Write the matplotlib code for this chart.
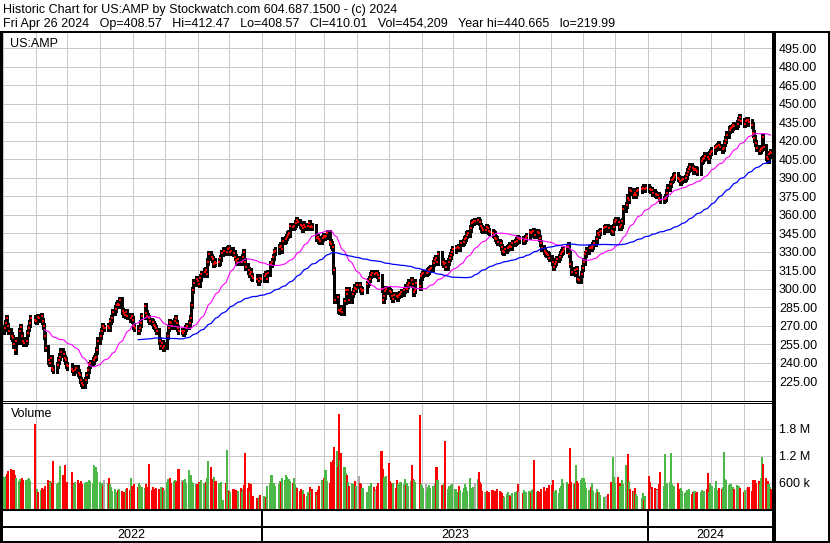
import numpy as np
import pandas as pd
import matplotlib
matplotlib.use("Agg")
import matplotlib.pyplot as plt
import matplotlib.dates as mdates
from matplotlib.lines import Line2D

plt.rcParams['font.family'] = ['Liberation Sans', 'DejaVu Sans']

# NYSE holidays inside the chart window
holidays = ['2022-05-30', '2022-06-20', '2022-07-04', '2022-09-05', '2022-11-24', '2022-12-26',
            '2023-01-02', '2023-01-16', '2023-02-20', '2023-04-07', '2023-05-29', '2023-06-19',
            '2023-07-04', '2023-09-04', '2023-11-23', '2023-12-25',
            '2024-01-01', '2024-01-15', '2024-02-19', '2024-03-29']

# daily closes, one row per month
close_2022 = [
    [270, 266],
    [268, 272, 276, 270, 266, 262, 260, 255, 250, 258, 266, 269, 262, 258, 256, 258, 264, 268, 272, 276, 275],
    [274, 277, 276, 278, 274, 270, 262, 252, 242, 240, 244, 236, 234, 238, 242, 245, 249, 247, 244, 242, 238],
    [237, 235, 233, 234, 236, 232, 230, 226, 224, 222, 226, 230, 234, 238, 240, 242, 244, 245, 250, 258],
    [262, 266, 270, 268, 268, 270, 268, 274, 276, 281, 284, 287, 288, 287, 291, 282, 280, 279, 281, 278, 276, 278, 275],
    [270, 268, 266, 268, 272, 278, 286, 280, 278, 276, 274, 273, 271, 270, 268, 266, 258, 254, 256, 252, 254],
    [262, 268, 273, 272, 270, 274, 276, 272, 268, 266, 266, 264, 266, 268, 270, 272, 276, 287, 299, 305, 308],
    [306, 304, 309, 312, 314, 315, 312, 322, 328, 326, 324, 320, 322, 321, 322, 325, 329, 331, 330, 332, 333],
    [330, 331, 329, 326, 323, 322, 324, 322, 326, 330, 322, 318, 315, 312, 314, 310, 309, 308, 306, 309, 308],
]
close_2023 = [
    [310, 312, 308, 313, 320, 322, 326, 330, 331, 334, 335, 332, 339, 340, 342, 344, 345, 351, 350, 351],
    [353, 356, 354, 352, 351, 349, 352, 350, 351, 353, 350, 351, 350, 341, 342, 340, 339, 341, 343],
    [342, 343, 345, 338, 336, 334, 315, 291, 293, 283, 282, 284, 281, 290, 299, 296, 299, 291, 296, 298, 301, 300, 303],
    [303, 300, 298, 299, 304, 306, 308, 311, 313, 312, 313, 313, 311, 309, 300, 291, 294, 298, 300],
    [298, 297, 294, 292, 295, 294, 293, 295, 296, 297, 299, 301, 300, 303, 305, 307, 304, 297, 299, 305, 302, 310],
    [312, 313, 313, 314, 315, 316, 317, 321, 323, 325, 322, 328, 322, 320, 321, 318, 322, 325, 327, 330, 332],
    [333, 334, 333, 337, 338, 340, 341, 344, 345, 349, 353, 354, 355, 355, 356, 354, 351, 349, 348, 348],
    [350, 349, 347, 346, 345, 344, 341, 340, 338, 337, 334, 331, 330, 332, 333, 334, 335, 334, 337, 338, 339, 341, 340],
    [340, 339, 340, 341, 343, 346, 345, 346, 347, 344, 346, 345, 341, 337, 333, 331, 329, 328, 327, 325],
    [322, 318, 320, 322, 324, 326, 328, 330, 331, 332, 334, 335, 328, 320, 314, 315, 313, 316, 308, 307, 312, 317],
    [322, 328, 331, 333, 334, 333, 335, 337, 340, 345, 344, 346, 347, 349, 350, 350, 349, 347, 346, 350, 354],
    [356, 354, 350, 352, 355, 365, 368, 374, 372, 380, 379, 376, 378, 376, 379, 380, 381, 382, 381, 382],
]
close_2024 = [
    [381, 380, 380, 378, 377, 376, 376, 374, 372, 373, 374, 378, 382, 385, 388, 389, 391, 392, 390, 389, 387],
    [388, 389, 390, 392, 395, 397, 399, 398, 396, 397, 396, 395, 404, 405, 406, 408, 407, 405, 409, 411],
    [412, 414, 415, 416, 417, 415, 413, 414, 418, 421, 425, 429, 430, 431, 433, 432, 434, 437, 439, 436],
    [434, 436, 437, 437, 435, 433, 426, 422, 418, 414, 412, 413, 414, 423, 415, 407, 405, 409, 411, 410.01],
]

# daily volume in thousands, one row per month
vol_2022 = [
    [700, 650],
    [720, 600, 740, 800, 850, 900, 820, 880, 760, 700, 640, 680, 620, 700, 650, 660, 640, 680, 700, 640, 1900],
    [420, 450, 400, 430, 470, 460, 440, 520, 650, 640, 620, 580, 1070, 560, 600, 620, 960, 760, 700, 1000, 620],
    [620, 840, 600, 560, 620, 650, 580, 600, 640, 560, 600, 620, 580, 650, 640, 600, 1000, 720, 950, 840],
    [620, 560, 600, 520, 650, 580, 690, 560, 500, 420, 450, 400, 380, 440, 460, 420, 380, 400, 450, 470, 440, 690, 520],
    [480, 560, 500, 580, 540, 500, 470, 560, 500, 480, 1020, 440, 500, 420, 460, 480, 450, 410, 500, 470, 440],
    [620, 680, 650, 700, 600, 640, 660, 620, 640, 900, 660, 620, 650, 680, 600, 870, 640, 760, 620, 580, 560],
    [560, 620, 580, 650, 600, 540, 620, 700, 1070, 950, 680, 580, 720, 640, 600, 560, 620, 220, 580, 1320, 440],
    [420, 380, 460, 400, 440, 360, 420, 470, 380, 450, 540, 1260, 480, 600, 420, 560, 300, 260, 220, 280, 320],
]
vol_2023 = [
    [300, 240, 280, 520, 580, 760, 560, 600, 520, 560, 640, 620, 700, 660, 760, 720, 680, 640, 600, 700],
    [560, 500, 480, 420, 460, 380, 440, 350, 300, 400, 500, 420, 460, 380, 320, 440, 520, 650, 600],
    [700, 870, 640, 600, 1060, 700, 1100, 1390, 1300, 950, 2120, 1100, 1260, 950, 820, 760, 620, 520, 600, 560, 480, 640, 520],
    [740, 600, 560, 480, 400, 360, 520, 440, 580, 500, 420, 460, 520, 600, 1300, 900, 720, 700, 740],
    [1040, 640, 580, 520, 600, 480, 660, 560, 500, 620, 560, 680, 540, 600, 520, 640, 1000, 680, 650, 620, 2100, 560],
    [520, 480, 560, 440, 500, 540, 480, 520, 460, 560, 950, 650, 540, 480, 600, 1520, 460, 520, 500, 540, 560],
    [460, 400, 520, 440, 380, 480, 560, 500, 420, 690, 480, 460, 500, 580, 670, 840, 620, 560, 420, 380],
    [380, 420, 340, 400, 440, 360, 420, 380, 460, 420, 400, 360, 300, 280, 340, 380, 320, 300, 360, 400, 340, 420, 560],
    [400, 360, 440, 320, 380, 420, 360, 440, 460, 1100, 380, 420, 360, 400, 460, 500, 420, 380, 480, 540],
    [540, 650, 420, 380, 440, 360, 470, 520, 670, 580, 620, 540, 560, 1360, 620, 560, 600, 1000, 640, 580, 660, 700],
    [700, 620, 480, 440, 380, 500, 580, 420, 360, 460, 400, 380, 320, 280, 220, 300, 340, 620, 560, 1160, 730],
    [600, 730, 580, 520, 650, 560, 990, 620, 1230, 640, 460, 420, 380, 470, 340, 300, 260, 360, 220, 300],
]
vol_2024 = [
    [740, 620, 460, 500, 480, 460, 440, 560, 840, 520, 1230, 600, 580, 620, 1260, 560, 480, 520, 580, 460, 440],
    [480, 420, 360, 400, 440, 380, 460, 340, 400, 420, 360, 400, 380, 440, 300, 420, 460, 810, 400, 580],
    [520, 480, 630, 440, 420, 480, 460, 500, 1280, 680, 650, 540, 560, 480, 500, 460, 540, 440, 520, 480],
    [380, 440, 320, 480, 500, 420, 650, 620, 660, 600, 640, 560, 700, 1160, 1020, 690, 640, 560, 500, 454],
]

years = ['2022', '2023', '2024']
price_ticks = list(range(225, 496, 15))
vol_ticks = [600, 1200, 1800]
vol_tick_labels = ['600 k', '1.2 M', '1.8 M']

header1 = 'Historic Chart for US:AMP by Stockwatch.com 604.687.1500 - (c) 2024'
header2 = ('Fri Apr 26 2024   Op=408.57   Hi=412.47   Lo=408.57   Cl=410.01   '
           'Vol=454,209   Year hi=440.665   lo=219.99')

closes = np.array(sum(close_2022 + close_2023 + close_2024, []), dtype=float)
volumes = np.array(sum(vol_2022 + vol_2023 + vol_2024, []), dtype=float)
dates = pd.bdate_range('2022-04-28', '2024-04-26', freq='C', holidays=holidays)
assert len(dates) == len(closes) == len(volumes), (len(dates), len(closes), len(volumes))
x = mdates.date2num(dates)

s = pd.Series(closes)
ma_fast = s.rolling(30).mean()
ma_slow = s.rolling(90).mean()

# bar spans from the previous close to this close, a little beyond each end
prev = np.r_[closes[0], closes[:-1]]
bar_lo = np.minimum(prev, closes) - 2.6
bar_hi = np.maximum(prev, closes) + 2.6
vcol = np.where(closes > prev, '#4CB848', np.where(closes < prev, '#FF0000', '#A8A8A8'))

# ---- layout in pixels ----
W, H = 830, 543
fig = plt.figure(figsize=(W / 100, H / 100), dpi=100)
fig.patch.set_facecolor('white')


def box(l, t, r, b):
    return [l / W, 1 - b / H, (r - l) / W, (b - t) / H]


def fline(xs, ys, lw=1.0, color='black'):
    fig.add_artist(Line2D([v / W for v in xs], [1 - v / H for v in ys],
                          lw=lw * 0.72, color=color, solid_capstyle='butt',
                          antialiased=False))


grid_c = '#C8C8C8'
x0 = mdates.date2num(pd.Timestamp('2022-05-01'))
pxd = 1.0575


def x_at(px):
    return x0 + (px - 2.92) / pxd


def p_at(py):
    return 405 + (159.3 - py) / 1.2333


month_starts = mdates.date2num(pd.date_range('2022-05-01', '2024-04-01', freq='MS'))
year_starts = mdates.date2num(pd.to_datetime(['2023-01-01', '2024-01-01']))

ax = fig.add_axes(box(1.5, 33, 773, 401))
axv = fig.add_axes(box(1.5, 403, 773, 509.5))
for a in (ax, axv):
    a.set_xlim(x_at(1.5), x_at(773))
    for sp in a.spines.values():
        sp.set_visible(False)
    a.set_xticks([])
    a.yaxis.tick_right()
    a.tick_params(axis='y', length=0, pad=4.3, labelsize=9, labelcolor='black')
    for m in month_starts:
        a.axvline(m, color=grid_c, lw=0.72, zorder=0)

ax.set_ylim(p_at(401), p_at(33))
ax.set_yticks(price_ticks)
ax.set_yticklabels([f'{v:.2f}' for v in price_ticks])
for v in price_ticks:
    ax.axhline(v, color=grid_c, lw=0.72, zorder=0)

ax.vlines(x, bar_lo, bar_hi, color='black', lw=0.75, zorder=2, antialiased=False)
ax.plot(x + 0.7, closes, 's', ms=1.5, mew=0, color='#FF0000', zorder=3)
ax.plot(x, ma_fast, color='#FF00FF', lw=0.8, zorder=4)
ax.plot(x, ma_slow, color='#0000FF', lw=0.9, zorder=4)
ax.text(8 / (773 - 1.5), 1 - (47.3 - 33) / (401 - 33), 'US:AMP', transform=ax.transAxes,
        fontsize=9, va='baseline', ha='left')

axv.set_ylim(0, (509.5 - 403) / 45 * 1000)
axv.set_yticks(vol_ticks)
axv.set_yticklabels(vol_tick_labels)
for v in vol_ticks:
    axv.axhline(v, color=grid_c, lw=0.72, zorder=0)
axv.bar(x, volumes, width=2.0, color=vcol, lw=0, zorder=2, antialiased=False)
axv.text(9 / (773 - 1.5), 1 - (417.3 - 403) / (509.5 - 403), 'Volume', transform=axv.transAxes,
         fontsize=9, va='baseline', ha='left')

# header
fig.text(3 / W, 1 - 12.7 / H, header1, fontsize=9.0, va='baseline', ha='left')
fig.text(3 / W, 1 - 26.7 / H, header2, fontsize=9.0, va='baseline', ha='left')

# frame lines
fline([0, W], [32, 32], lw=2)
fline([1, 1], [31, H], lw=2.5)
fline([774, 774], [31, H], lw=2.5)
fline([0, 773], [400.5, 400.5], lw=1)
fline([0, 773], [403, 403], lw=1)
fline([0, 773], [509.5, 509.5], lw=2)
fline([0, 773], [527, 527], lw=2)
fline([0, W], [542, 542], lw=2)
fline([W - 1, W - 1], [31, H], lw=1.5)


def px_of(xd):
    return 2.92 + (xd - x0) * pxd


bounds = [0] + [px_of(v) for v in year_starts] + [773]
for b in bounds[1:-1]:
    fline([b, b], [509.5, 542], lw=1.5)
for i, yl in enumerate(years):
    cx = (bounds[i] + bounds[i + 1]) / 2
    fig.text(cx / W, 1 - 535 / H, yl, fontsize=9, ha='center', va='center')

fig.savefig('out.png', dpi=100, facecolor='white')
